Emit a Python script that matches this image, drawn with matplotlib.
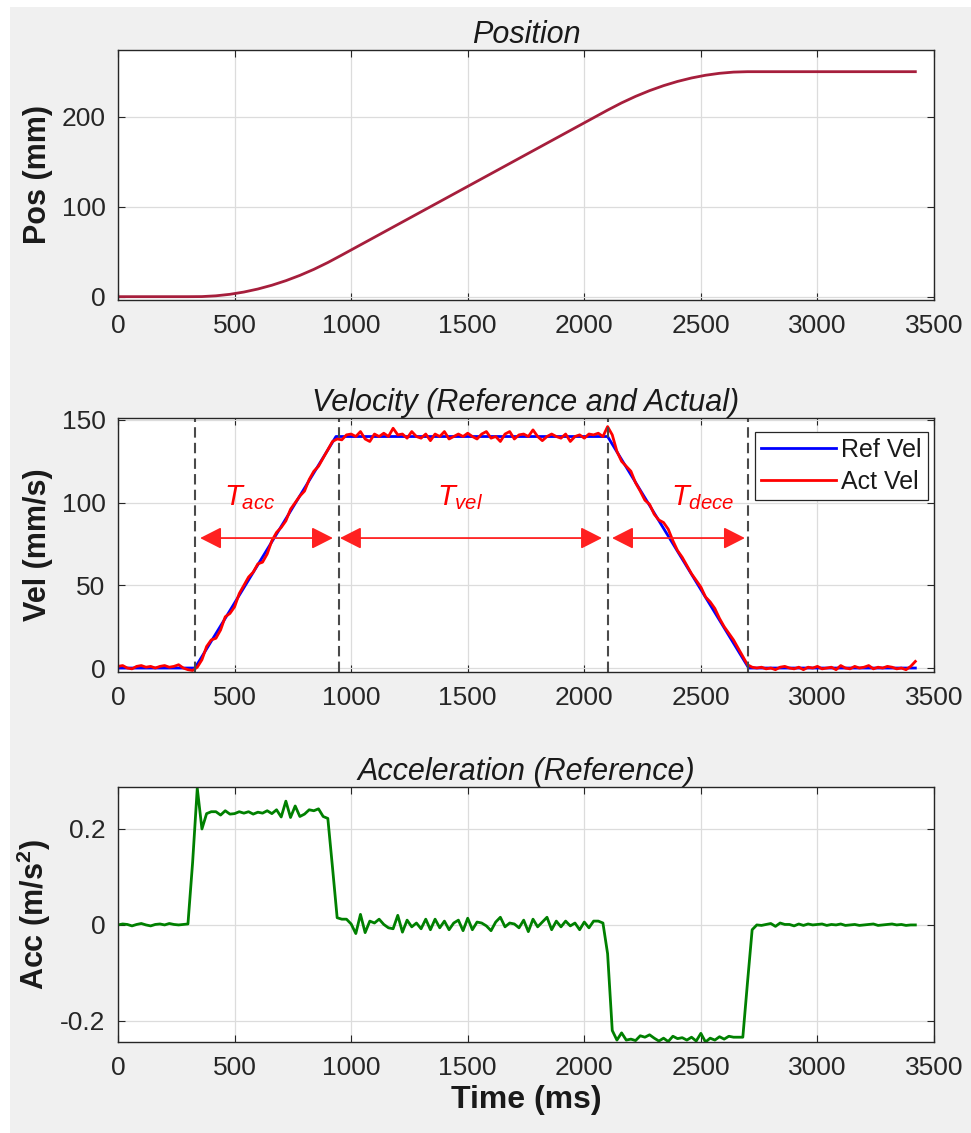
import numpy as np
import matplotlib
matplotlib.use("Agg")
from matplotlib import pyplot as plt
from matplotlib.patches import Rectangle

plt.rcParams['font.family'] = ['Liberation Sans', 'DejaVu Sans']
plt.rcParams['mathtext.fontset'] = 'custom'
plt.rcParams['mathtext.rm'] = 'Liberation Sans'
plt.rcParams['mathtext.it'] = 'Liberation Sans:italic'
plt.rcParams['mathtext.bf'] = 'Liberation Sans:bold'
plt.rcParams['axes.unicode_minus'] = False

# position (mm), sampled every 60 ms
pos_mm = [0, 0, 0, 0, 0, 0,
          0.1, 0.95, 2.62, 5.15, 8.51, 12.71, 17.76, 23.64, 30.36, 37.93,
          46.26, 54.74, 63.21, 71.69, 80.17, 88.64, 97.12, 105.59, 114.07, 122.54,
          131.02, 139.49, 147.97, 156.45, 164.92, 173.40, 181.87, 190.35, 198.82, 207.30,
          215.35, 222.57, 228.94, 234.48, 239.17, 243.02, 246.04, 248.20, 249.54, 250.0,
          250, 250, 250, 250, 250, 250, 250, 250, 250, 250, 250, 250]

# reference velocity breakpoints
ref_ms = [0, 330, 935, 2100, 2705, 3420]
ref_vel = [0, 0, 140, 140, 0, 0]

# actual velocity (mm/s), sampled every 20 ms
act_vel = [1.0, 1.5, 0.0, -0.5, 1.0, 1.5, 0.5, 1.0, 0.0, 1.0, 1.5, 0.5, 1.0, 2.0, 0.0, -1.0, -1.5,
           0.5, 5, 13, 17, 18, 23, 31, 33, 37, 45, 50, 55, 58, 63, 64, 69, 77, 82, 85, 89,
           96, 100, 104, 107, 114, 119, 122, 127, 132, 137, 138.5,
           138, 141, 141.5, 140, 143, 138.5, 137, 141.5, 140, 142, 140, 145, 141, 141.5, 139,
           143, 140, 139, 141.5, 137.5, 141.5, 140, 143, 138.5, 140, 141.5, 140, 142, 140, 138.5,
           141.5, 143, 139, 140, 137, 141.5, 143, 138.5, 141, 141.5, 140, 144, 140, 137.5, 140,
           141.5, 140, 139, 141.5, 137, 140, 141, 139, 141.5, 141, 142, 140,
           146, 141, 131, 125, 122, 119, 112, 107, 101.5, 99, 93, 89.5, 88, 84, 77, 71,
           67, 62, 57, 53, 49, 43, 40, 36, 30, 25, 21, 17, 12, 7, 2, 0.5,
           0.0, 0.5, -0.5, 0.0, -1.0, 0.5, 1.0, 0.0, -0.5, 0.5, -1.0, 0.5, 0.0, 1.0, -0.5,
           0.0, 0.5, -1.0, 1.5, 0.0, -0.5, 1.0, 0.0, 0.5, 1.5, -0.5, 0.5, 0.0, 1.0, 0.5,
           -0.5, 0.0, -1.0, 1.0, 4.0]

# reference acceleration (m/s^2), sampled every 20 ms
acc = [0.000, 0.002, 0.001, -0.002, 0.001, 0.003, 0.000, -0.002, 0.001, 0.002, 0.000, 0.003,
       0.001, 0.000, 0.001, 0.002,
       0.13, 0.285, 0.200, 0.232,
       0.236, 0.236, 0.229, 0.238, 0.231, 0.232, 0.236, 0.233, 0.236, 0.231, 0.235, 0.233,
       0.238, 0.232, 0.240, 0.225, 0.258, 0.224, 0.248, 0.226, 0.231, 0.240, 0.238, 0.242,
       0.226, 0.222,
       0.12, 0.015, 0.012, 0.012,
       0.002, -0.018, 0.022, -0.016, 0.008, 0.004, 0.012, 0.001, -0.006, -0.008, 0.020, -0.015,
       0.010, -0.004, 0.004, -0.008, 0.012, -0.010, 0.012, -0.006, 0.008, -0.010, 0.004, 0.010,
       -0.012, 0.014, -0.010, 0.006, 0.004, -0.002, -0.012, 0.006, 0.016, -0.004, 0.004, 0.002,
       -0.006, 0.010, -0.014, 0.012, -0.004, 0.006, 0.016, -0.010, 0.008, -0.004, 0.008, -0.002,
       0.004, -0.010, 0.006, -0.006, 0.008, 0.008, 0.004,
       -0.06, -0.22,
       -0.240, -0.225, -0.240, -0.238, -0.241, -0.231, -0.234, -0.229, -0.236, -0.242, -0.236,
       -0.243, -0.232, -0.237, -0.235, -0.240, -0.234, -0.242, -0.226, -0.244, -0.236, -0.240,
       -0.233, -0.238, -0.232, -0.234, -0.234, -0.234,
       -0.12, -0.01, 0.000,
       -0.001, 0.001, 0.003, -0.003, 0.004, 0.001, 0.001, -0.002, 0.002, -0.001, 0.002, 0.000,
       0.001, 0.002, -0.001, 0.001, 0.000, 0.002, -0.001, 0.000, 0.001, -0.001, 0.000, 0.001,
       0.002, -0.001, 0.000, 0.001, 0.002, 0.000, 0.001, -0.001, 0.000, 0.000]

# phase boundaries (ms) and annotation arrows
phase_ms = [330, 948, 2100, 2702]
arrow_spans = [(352, 922), (952, 2076), (2119, 2689)]
arrow_vel = 78.6
phase_labels = [r'$T_{acc}$', r'$T_{vel}$', r'$T_{dece}$']
label_ms = [566, 1467, 2509]
label_vel = 103

pos_ms = 60 * np.arange(len(pos_mm))
vel_ms = 20 * np.arange(len(act_vel))
acc_ms = 20 * np.arange(len(acc))

fig = plt.figure(figsize=(9.71, 11.33), dpi=100, facecolor='white')
fig.patches.append(Rectangle((10 / 971, 0), 1 - 10 / 971, 1 - 7 / 1133, transform=fig.transFigure,
                             facecolor='#f0f0f0', edgecolor='none', zorder=-10))

left, width = 118 / 971, 816 / 971
ax1 = fig.add_axes([left, 1 - 300 / 1133, width, 250 / 1133])
ax2 = fig.add_axes([left, 1 - 672 / 1133, width, 254 / 1133])
ax3 = fig.add_axes([left, 1 - 1042 / 1133, width, 255 / 1133])

dark = '#262626'
for ax in (ax1, ax2, ax3):
    ax.set_facecolor('white')
    ax.set_xlim(0, 3500)
    ax.set_xticks(np.arange(0, 3501, 500))
    ax.grid(True, color='#dcdcdc', lw=0.9)
    ax.set_axisbelow(True)
    ax.tick_params(direction='in', length=5, width=0.8, colors=dark, top=True, right=True,
                   labelsize=19)
    ax.tick_params(axis='y', pad=9)
    ax.tick_params(axis='x', pad=10)
    for sp in ax.spines.values():
        sp.set_color(dark)
        sp.set_linewidth(1.0)

ax1.plot(pos_ms, pos_mm, color='#a61e3c', lw=2)
ax1.set_ylim(-3.7, 274.1)
ax1.set_yticks([0, 100, 200])
ax1.set_title('Position', fontsize=22, style='italic', color='#1a1a1a', pad=5)
ax1.set_ylabel('Pos (mm)', fontsize=22, fontweight='bold', color='#1a1a1a')

ax2.plot(ref_ms, ref_vel, color='#0000ff', lw=2, label='Ref Vel')
ax2.plot(vel_ms, act_vel, color='#ff0000', lw=2, label='Act Vel')
for x in phase_ms:
    ax2.axvline(x, color='#4a4a4a', lw=1.5, ls=(0, (5, 2.5)))
for (x0, x1) in arrow_spans:
    ax2.annotate('', xy=(x1, arrow_vel), xytext=(x0, arrow_vel),
                 arrowprops=dict(arrowstyle='<|-|>,head_length=0.65,head_width=0.33',
                                 color='#ff2020', lw=1.3, shrinkA=0, shrinkB=0,
                                 mutation_scale=20))
for txt, x in zip(phase_labels, label_ms):
    ax2.text(x, label_vel, txt, color='#ff0000', fontsize=21, ha='center', va='center')
ax2.set_ylim(-2.4, 151.2)
ax2.set_yticks([0, 50, 100, 150])
ax2.set_title('Velocity (Reference and Actual)', fontsize=22, style='italic', color='#1a1a1a', pad=5)
ax2.set_ylabel('Vel (mm/s)', fontsize=22, fontweight='bold', color='#1a1a1a')
leg = ax2.legend(loc='upper right', bbox_to_anchor=(0.9926, 0.945), borderaxespad=0,
                 fontsize=18, fancybox=False, framealpha=1, edgecolor=dark,
                 handlelength=3.0, handletextpad=0.2, labelspacing=0.3, borderpad=0.25)
leg.get_frame().set_linewidth(0.9)
for t in leg.get_texts():
    t.set_color('#1a1a1a')

ax3.plot(acc_ms, acc, color='#008000', lw=2)
ax3.set_ylim(-0.244, 0.2875)
ax3.set_yticks([-0.2, 0, 0.2])
ax3.set_yticklabels(['-0.2', '0', '0.2'])
ax3.set_title('Acceleration (Reference)', fontsize=22, style='italic', color='#1a1a1a', pad=5)
ax3.set_ylabel(r'Acc (m/s$^{\mathbf{2}}$)', fontsize=22, fontweight='bold', color='#1a1a1a')
ax3.set_xlabel('Time (ms)', fontsize=23, fontweight='bold', color='#1a1a1a', labelpad=4)

for ax in (ax1, ax2, ax3):
    ax.yaxis.set_label_coords(-0.08, 0.5)

fig.savefig('out.png', dpi=100, facecolor='white')
